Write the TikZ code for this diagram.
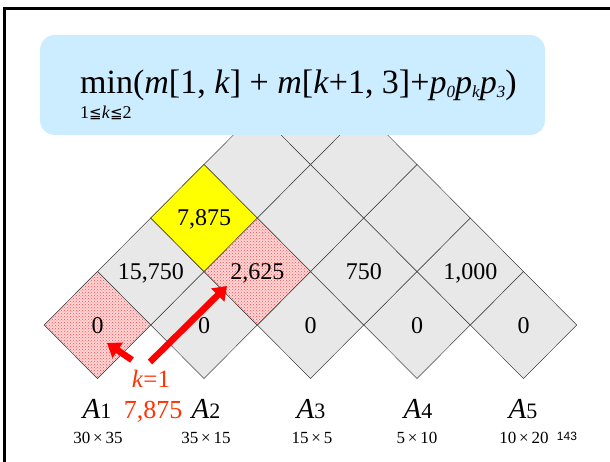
\documentclass[tikz,border=0pt]{standalone}
\usepackage{fontspec}
\setmainfont{Liberation Serif}
\newfontfamily\dejavu{DejaVu Sans}
\newfontfamily\lsans{Liberation Sans}
\usetikzlibrary{patterns,arrows.meta}
\definecolor{cellgray}{RGB}{232,232,232}
\definecolor{boxblue}{RGB}{204,236,255}
\definecolor{kred}{RGB}{255,51,0}
\definecolor{cellyellow}{RGB}{255,255,0}
\definecolor{hotpink}{RGB}{255,214,214}
\tikzset{
  cell/.style={draw=black!75, line width=0.5pt, fill=cellgray},
  hot/.style={draw=black!75, line width=0.5pt, preaction={fill=hotpink}, pattern=crosshatch dots, pattern color=red!70},
  chosen/.style={draw=black!75, line width=0.5pt, fill=cellyellow},
  val/.style={anchor=base, inner sep=0pt, font=\fontsize{24}{28}\selectfont},
  mlabel/.style={anchor=base, inner sep=0pt, font=\fontsize{29}{32}\selectfont},
  dimlabel/.style={anchor=base, inner sep=0pt, font=\fontsize{17}{19}\selectfont},
  redarrow/.style={draw=red, line width=6.5pt, -{Triangle[length=13pt,width=18pt]}},
}
\newcommand{\diam}[2]{(#1) ++(-53.25,0) -- ++(53.25,-53.5) -- ++(53.25,53.5) -- ++(-53.25,53.5) -- cycle}
\newcommand{\Alab}[1]{\textit{A}{\fontsize{22}{24}\selectfont #1}}
\newcommand{\lesseq}{{\dejavu\fontsize{15}{17}\selectfont ≦}}
\newcommand{\psub}[1]{\textit{p}\raisebox{-4pt}{\fontsize{17}{19}\selectfont\textit{#1}}}
\begin{document}
\begin{tikzpicture}[x=1pt,y=-1pt]
\useasboundingbox (0,0) rectangle (610,462);
\fill[white] (0,0) rectangle (610,462);
\draw[line width=3pt] (4,462) -- (4,9) -- (610,9);
% cell centres
\foreach \j in {0,...,4}{
  \pgfmathtruncatemacro\n{4-\j}
  \foreach \i in {0,...,\n}{
    \pgfmathsetmacro\cx{97.5+53.25*\j+106.5*\i}
    \pgfmathsetmacro\cy{325-53.5*\j}
    \coordinate (c\j\i) at (\cx,\cy);
    \path[cell] \diam{c\j\i}{};
  }
}
\path[hot] \diam{c00}{};
\path[hot] \diam{c11}{};
\path[chosen] \diam{c20}{};
% values
\foreach \i in {0,...,4}{ \node[val] (v0\i) at ([yshift=-8pt]c0\i) {0}; }
\node[val] (v10) at ([yshift=-8pt]c10) {15,750};
\node[val] (v11) at ([yshift=-8pt]c11) {2,625};
\node[val] (v12) at ([yshift=-8pt]c12) {750};
\node[val] (v13) at ([yshift=-8pt]c13) {1,000};
\node[val] (v20) at ([yshift=-8pt]c20) {7,875};
% formula box
\fill[boxblue, rounded corners=15pt] (40,35) rectangle (545,135);
\node[anchor=base west, inner sep=0pt, font=\fontsize{34}{37}\selectfont] (formula) at (80,94)
  {min(\textit{m}[1, \textit{k}] + \textit{m}[\textit{k}+1, 3]+\psub{0}\psub{k}\psub{3})};
\node[anchor=base west, inner sep=0pt, font=\fontsize{18}{20}\selectfont] (range) at (80,119)
  {1\lesseq\textit{k}\lesseq 2};
% matrix labels
\node[mlabel] (A1) at (97,418) {\Alab{1}};
\node[mlabel] (A2) at (206,418) {\Alab{2}};
\node[mlabel] (A3) at (311,418) {\Alab{3}};
\node[mlabel] (A4) at (418,418) {\Alab{4}};
\node[mlabel] (A5) at (523,418) {\Alab{5}};
\node[dimlabel] (d1) at (98,443) {30\,×\,35};
\node[dimlabel] (d2) at (206,443) {35\,×\,15};
\node[dimlabel] (d3) at (312,443) {15\,×\,5};
\node[dimlabel] (d4) at (417,443) {5\,×\,10};
\node[dimlabel] (d5) at (524,443) {10\,×\,20};
\node[anchor=base, inner sep=0pt, font=\lsans\fontsize{12}{14}\selectfont] (page) at (567,440) {143};
% k=1 and cost
\node[anchor=base, inner sep=0pt, text=kred, font=\fontsize{25}{28}\selectfont] (k) at (151,387) {\textit{k}=1};
\node[anchor=base, inner sep=0pt, text=kred, font=\fontsize{26}{30}\selectfont] (cost) at (153,418) {7,875};
% arrows
\coordinate (a1s) at (132,360);
\coordinate (a1e) at (107,343);
\coordinate (a2s) at (150,362);
\coordinate (a2e) at (227,286);
\draw[redarrow] (a1s) -- (a1e);
\draw[redarrow] (a2s) -- (a2e);
\end{tikzpicture}
\end{document}
